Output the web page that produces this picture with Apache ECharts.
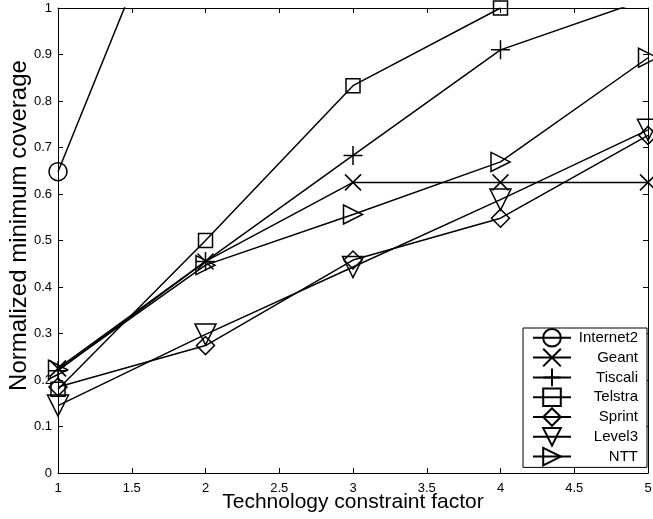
<!DOCTYPE html>
<html>
<head>
<meta charset="utf-8">
<script src="https://cdn.jsdelivr.net/npm/echarts@6/dist/echarts.min.js"></script>
<style>
  html, body { margin: 0; padding: 0; background: #fff; }
  #chart { width: 653px; height: 519px; }
</style>
</head>
<body>
<div id="chart"></div>
<script>
// Technology constraint factor (x) vs. normalized minimum coverage per network
const factors = [1, 2, 3, 4, 5];
const internet2 = [0.648, 1.43, null, null, null];
const geant     = [0.225, 0.455, 0.625, 0.625, 0.625];
const tiscali   = [0.220, 0.455, 0.683, 0.910, 1.02];
const telstra   = [0.180, 0.500, 0.833, 1.000, null];
const sprint    = [0.185, 0.274, 0.458, 0.548, 0.726];
const level3    = [0.145, 0.298, 0.443, 0.588, 0.738];
const ntt       = [0.222, 0.447, 0.556, 0.669, 0.893];

const FONT = '"Liberation Sans", Arial, Helvetica, sans-serif';

const networks = [
  { name: 'Internet2', values: internet2, symbol: 'circle', size: 18 },
  { name: 'Geant', values: geant, symbol: 'path://M0,0L10,10M10,0L0,10', size: 16 },
  { name: 'Tiscali', values: tiscali, symbol: 'path://M5,0L5,10M0,5L10,5', size: 19 },
  { name: 'Telstra', values: telstra, symbol: 'rect', size: 14 },
  { name: 'Sprint', values: sprint, symbol: 'diamond', size: 18 },
  { name: 'Level3', values: level3, symbol: 'path://M0,0L10,0L5,9Z', size: 21 },
  { name: 'NTT', values: ntt, symbol: 'path://M0,0L9,5L0,10Z', size: 19 }
];

const series = networks.map(n => ({
  name: n.name,
  type: 'line',
  xAxisIndex: 0,
  yAxisIndex: 0,
  data: factors.map((x, i) => [x, n.values[i]]),
  symbol: n.symbol,
  symbolSize: n.size,
  showSymbol: true,
  clip: true,
  connectNulls: false,
  color: '#000',
  lineStyle: { color: '#000', width: 1.5 },
  itemStyle: { color: 'transparent', borderColor: '#000', borderWidth: 1.5 },
  emphasis: { disabled: true },
  animation: false
}));

const grid = { left: 58, right: 5, top: 8, bottom: 46, containLabel: false, outerBoundsMode: 'none' };

const chart = echarts.init(document.getElementById('chart'), null, { renderer: 'canvas' });
chart.setOption({
  backgroundColor: '#fff',
  animation: false,
  textStyle: { fontFamily: FONT },
  grid: grid,
  xAxis: [
    {
      type: 'value', position: 'bottom', min: 1, max: 5, interval: 0.5,
      name: 'Technology constraint factor', nameLocation: 'middle', nameGap: 19,
      nameMoveOverlap: false,
      nameTextStyle: { fontFamily: FONT, fontSize: 21, color: '#000' },
      axisLine: { onZero: false, lineStyle: { color: '#000', width: 1 } },
      axisTick: { inside: true, length: 5, lineStyle: { color: '#000' } },
      axisLabel: { margin: 9, fontFamily: FONT, fontSize: 13, color: '#000' },
      splitLine: { show: false }
    },
    {
      type: 'value', position: 'top', min: 1, max: 5, interval: 0.5,
      axisLine: { onZero: false, lineStyle: { color: '#000', width: 1 } },
      axisTick: { inside: true, length: 5, lineStyle: { color: '#000' } },
      axisLabel: { show: false },
      splitLine: { show: false }
    }
  ],
  yAxis: [
    {
      type: 'value', position: 'left', min: 0, max: 1, interval: 0.1,
      name: 'Normalized minimum coverage', nameLocation: 'middle', nameGap: 27,
      nameMoveOverlap: false,
      nameTextStyle: { fontFamily: FONT, fontSize: 24, color: '#000', padding: [0, 0, 0, 30] },
      axisLine: { onZero: false, lineStyle: { color: '#000', width: 1 } },
      axisTick: { inside: true, length: 5, lineStyle: { color: '#000' } },
      axisLabel: { margin: 6, fontFamily: FONT, fontSize: 13, color: '#000' },
      splitLine: { show: false }
    },
    {
      type: 'value', position: 'right', min: 0, max: 1, interval: 0.1,
      axisLine: { onZero: false, lineStyle: { color: '#000', width: 1 } },
      axisTick: { inside: true, length: 5, lineStyle: { color: '#000' } },
      axisLabel: { show: false },
      splitLine: { show: false }
    }
  ],
  legend: {
    orient: 'vertical',
    left: 523,
    top: 328,
    padding: [0, 9, 1, 9],
    itemWidth: 38,
    itemHeight: 22,
    itemGap: 0.2,
    backgroundColor: '#fff',
    borderColor: '#000',
    borderWidth: 1,
    borderRadius: 0,
    selectedMode: false,
    formatter: name => '{r|' + name + '}',
    textStyle: {
      fontFamily: FONT, fontSize: 15, color: '#000',
      rich: { r: { width: 62, align: 'right', fontFamily: FONT, fontSize: 15, color: '#000' } }
    },
    data: networks.map(n => n.name)
  },
  series: series
});
</script>
</body>
</html>
